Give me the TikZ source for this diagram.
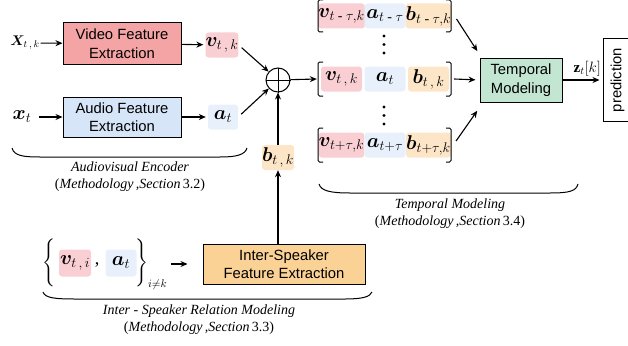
\documentclass[tikz,border=0pt]{standalone}
\usepackage{fix-cm}
\usepackage{amsmath,amssymb}
\usepackage{bm}
\usepackage{fontspec}
\setmainfont{Liberation Serif}
\newfontfamily\boxfont{Liberation Sans}
\usetikzlibrary{arrows,arrows.meta,calc,positioning}
\definecolor{vidred}{RGB}{244,164,164}
\definecolor{audblue}{RGB}{214,230,248}
\definecolor{intorange}{RGB}{250,210,150}
\definecolor{tmpgreen}{RGB}{195,230,211}
\definecolor{vtag}{RGB}{249,207,212}
\definecolor{atag}{RGB}{232,241,251}
\definecolor{btag}{RGB}{253,230,200}
\tikzset{
	block/.style={draw, line width=1pt, align=center, inner sep=0pt,
			font=\boxfont\fontsize{14.8}{18.5}\selectfont},
	tag/.style={rounded corners=3pt, inner sep=0pt, minimum height=25,
			font=\fontsize{20}{22}\selectfont},
	lbl/.style={inner sep=1pt, font=\fontsize{20}{22}\selectfont},
	arr/.style={-{Stealth[length=7pt,width=6pt]}, line width=1.1pt},
	brk/.style={line width=1pt, rounded corners=1.5pt},
	grp/.style={line width=1pt},
	capnote/.style={align=center, font=\fontsize{14}{17}\selectfont\itshape}
}

\begin{document}
\begin{tikzpicture}[x=1pt,y=-1pt]
    \useasboundingbox (0,0) rectangle (628,345);
    % audiovisual encoder
    \node[lbl, font=\fontsize{14}{16}\selectfont] (Xtk) at (25,43) {$\bm{X}_{t\,,\,k}$};
    \node[lbl] (xt) at (22,117) {$\bm{x}_t$};
    \node[block, fill=vidred, minimum width=118, minimum height=41] (video) at (122,43.5) {Video Feature\\Extraction};
    \node[block, fill=audblue, minimum width=118, minimum height=40] (audio) at (122,117) {Audio Feature\\Extraction};
    \node[tag, fill=vtag, minimum width=31] (vtk) at (222,45) {$\bm{v}_{t\,,\,k}$};
    \node[tag, fill=atag, minimum width=30] (at) at (223,117) {$\bm{a}_t$};
    \draw[arr] (Xtk) -- (video);
    \draw[arr, shorten <=6pt] (xt) -- (audio);
    \draw[arr, shorten >=2pt] (video) -- (vtk);
    \draw[arr, shorten >=2pt] (audio) -- (at);
    \draw[grp] (12,148) .. controls (14,156) and (24,157) .. (40,157) -- (220,157) .. controls (236,157) and (245,155) .. (247,148);
    \node[capnote] (avcap) at (130,176.5) {Audiovisual Encoder\\{\upshape(}Methodology\,,Section\,{\upshape 3.2)}};

    % fusion
    \node[draw, circle, line width=1pt, minimum size=24, inner sep=0pt] (sum) at (278,80) {};
    \draw[line width=1pt] (sum.north) -- (sum.south) (sum.west) -- (sum.east);
    \node[tag, fill=btag, minimum width=30] (btk) at (278,157.5) {$\bm{b}_{t\,,\,k}$};
    \draw[arr, shorten <=4pt] (vtk.east) -- (sum);
    \draw[arr, shorten <=4pt] (at.east) -- (sum);
    \draw[arr] (btk) -- (sum);

    % inter-speaker relation modeling
    \node[inner sep=0pt, font=\fontsize{16}{18}\selectfont] (lbr) at (49,263) {$\Bigg\{$};
    \node[tag, fill=vtag, minimum width=32, minimum height=27] (vti) at (75,263) {$\bm{v}_{t\,,\,i}$};
    \node[inner sep=0pt, font=\fontsize{18}{20}\selectfont] (comma) at (97,265) {,};
    \node[tag, fill=atag, minimum width=31, minimum height=27] (ati) at (121,263) {$\bm{a}_t$};
    \node[inner sep=0pt, anchor=west, font=\fontsize{16}{18}\selectfont] (rbr) at (135,264) {$\Bigg\}_{i\neq k}$};
    \node[block, fill=intorange, minimum width=162, minimum height=40] (inter) at (284,264) {Inter-Speaker\\Feature Extraction};
    \draw[arr, shorten <=3pt, shorten >=15pt] (rbr) -- (inter);
    \draw[arr] (inter.north -| btk) -- (btk);
    \draw[grp] (43,292) .. controls (45,298) and (55,299) .. (75,299) -- (345,299) .. controls (362,299) and (370,297) .. (372,292);
    \node[capnote] (iscap) at (199,319.5) {Inter - Speaker Relation Modeling\\{\upshape(}Methodology\,,Section\,{\upshape 3.3)}};

    % temporal window
    \node[tag, fill=vtag, minimum width=41] (v1) at (341.5,16) {$\bm{v}_{t\text{ - }\tau,k}$};
    \node[tag, fill=atag, minimum width=41] (a1) at (385,16) {$\bm{a}_{t\text{ - }\tau}$};
    \node[tag, fill=btag, minimum width=41] (b1) at (428.5,16) {$\bm{b}_{t\text{ - }\tau,k}$};
    \node[tag, fill=vtag, minimum width=41] (v2) at (341.5,79) {$\bm{v}_{t\,,\,k}$};
    \node[tag, fill=atag, minimum width=41] (a2) at (385,79) {$\bm{a}_t$};
    \node[tag, fill=btag, minimum width=41] (b2) at (428.5,79) {$\bm{b}_{t\,,\,k}$};
    \node[tag, fill=vtag, minimum width=41] (v3) at (341.5,145) {$\bm{v}_{t+\tau,k}$};
    \node[tag, fill=atag, minimum width=41] (a3) at (385,145) {$\bm{a}_{t+\tau}$};
    \node[tag, fill=btag, minimum width=41] (b3) at (428.5,145) {$\bm{b}_{t+\tau,k}$};
    % vertical dots between rows
    \fill (384,36) circle (1.6) (384,44.5) circle (1.6) (384,53) circle (1.6);
    \fill (384,107) circle (1.6) (384,115.5) circle (1.6) (384,124) circle (1.6);
    \draw[brk] (323,0) -- (318,0) -- (318,32) -- (323,32);
    \draw[brk] (446,0) -- (451,0) -- (451,32) -- (446,32);
    \draw[brk] (323,62) -- (318,62) -- (318,96) -- (323,96);
    \draw[brk] (446,62) -- (451,62) -- (451,96) -- (446,96);
    \draw[brk] (323,128) -- (318,128) -- (318,162) -- (323,162);
    \draw[brk] (446,128) -- (451,128) -- (451,162) -- (446,162);
    \draw[arr] (sum) -- ($(v2.west)+(-4,0)$);

    % temporal modeling
    \node[block, fill=tmpgreen, minimum width=82, minimum height=44] (temporal) at (521,80) {Temporal\\Modeling};
    \node[block, rotate=90, minimum width=82, minimum height=29] (pred) at (617.5,80) {prediction};
    \draw[arr, shorten >=4pt] ($(b1.east)+(5,3)$) -- ($(temporal.north west)+(0,-3)$);
    \draw[arr, shorten >=4pt] ($(b2.east)+(5,0)$) -- (temporal.west);
    \draw[arr, shorten >=4pt] ($(b3.east)+(5,-4)$) -- ($(temporal.south west)+(0,5)$);
    \draw[arr, shorten >=3pt] (temporal) -- node[above, pos=0.62, font=\fontsize{15}{16}\selectfont] {$\mathbf{z}_t[k]$} (pred);
    \draw[grp] (319,184) .. controls (321,191) and (331,193) .. (350,193) -- (550,193) .. controls (570,193) and (576,191) .. (578,184);
    \node[capnote] (tmcap) at (450,213.5) {Temporal Modeling\\{\upshape(}Methodology\,,Section\,{\upshape 3.4)}};
\end{tikzpicture}
\end{document}
